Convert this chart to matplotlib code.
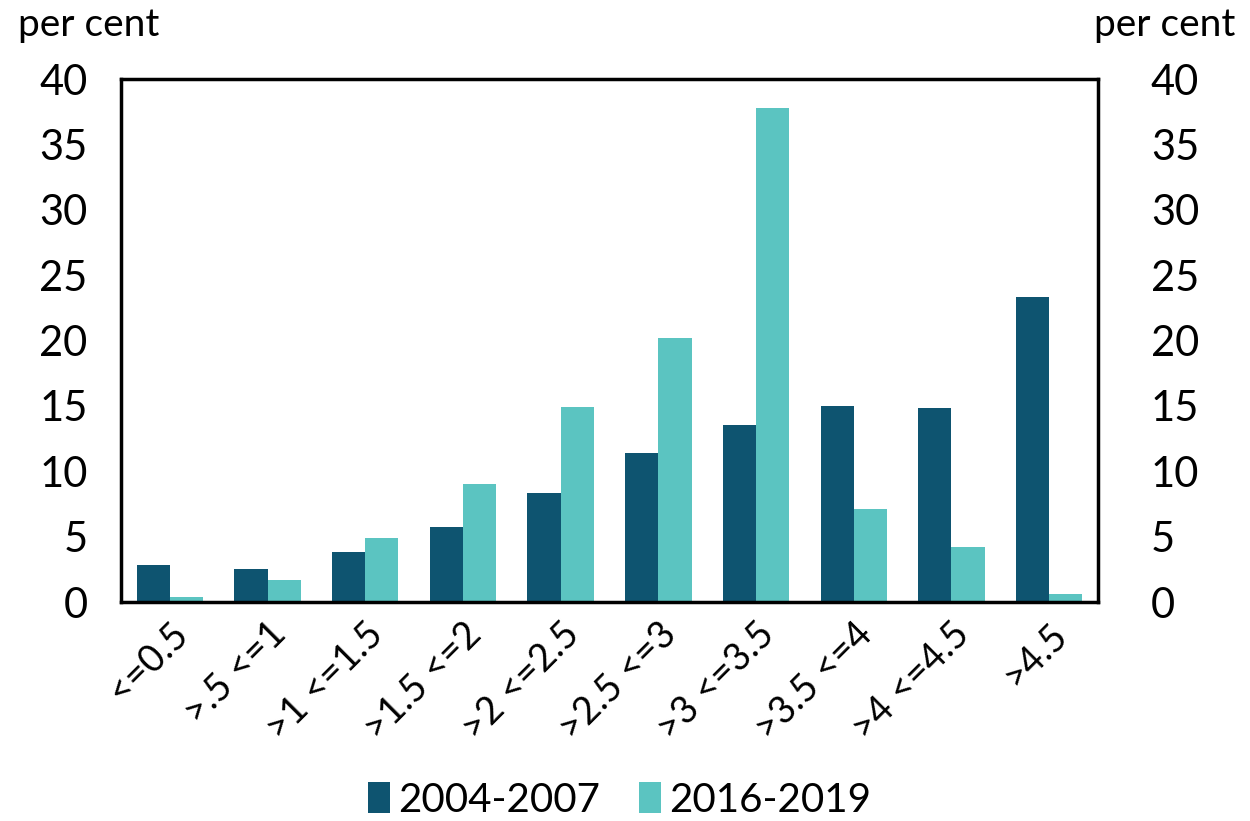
import matplotlib
matplotlib.use("Agg")
import matplotlib.pyplot as plt
import numpy as np

categories = ["<=0.5", ">.5 <=1", ">1 <=1.5", ">1.5 <=2", ">2 <=2.5",
              ">2.5 <=3", ">3 <=3.5", ">3.5 <=4", ">4 <=4.5", ">4.5"]
series_2004 = [2.8, 2.5, 3.8, 5.7, 8.3, 11.4, 13.5, 15.0, 14.8, 23.3]
series_2016 = [0.4, 1.7, 4.9, 9.0, 14.9, 20.2, 37.8, 7.1, 4.2, 0.6]
yticks = [0, 5, 10, 15, 20, 25, 30, 35, 40]

plt.rcParams['font.family'] = ['Lato', 'DejaVu Sans']

fig = plt.figure(figsize=(12.5, 8.21), dpi=100)
ax = fig.add_axes([121/1250, 1-602/821, (1098-121)/1250, (602-79)/821])

x = np.arange(len(categories))
w = 0.34
ax.bar(x - w/2, series_2004, w, color="#0E5470", label="2004-2007")
ax.bar(x + w/2, series_2016, w, color="#5BC4C1", label="2016-2019")

ax.set_xlim(-0.5, len(categories) - 0.5)
ax.set_ylim(0, 40)
ax.set_yticks(yticks)
ax.set_yticklabels([str(t) for t in yticks], fontsize=30)
ax.tick_params(axis='y', length=0, pad=24)
ax.set_xticks(x)
ax.set_xticklabels(categories, rotation=45, ha='right', rotation_mode='anchor', fontsize=27)
ax.tick_params(axis='x', length=0, pad=10)
for s in ax.spines.values():
    s.set_linewidth(2.5)
    s.set_color('black')

ax2 = ax.twinx()
ax2.set_ylim(0, 40)
ax2.set_yticks(yticks)
ax2.set_yticklabels([str(t) for t in yticks], fontsize=30)
ax2.tick_params(axis='y', length=0, pad=38)
for s in ax2.spines.values():
    s.set_visible(False)

fig.text(18/1250, 1-25/821, "per cent", fontsize=28, va='center', ha='left')
fig.text(1235/1250, 1-25/821, "per cent", fontsize=28, va='center', ha='right')

ax.legend(loc='center', bbox_to_anchor=(0.5 + 10/977, -198/523), ncol=2, frameon=False,
          fontsize=29, handlelength=0.55, handleheight=0.8, handletextpad=0.2, columnspacing=0.95)

fig.savefig("out.png", dpi=100)
